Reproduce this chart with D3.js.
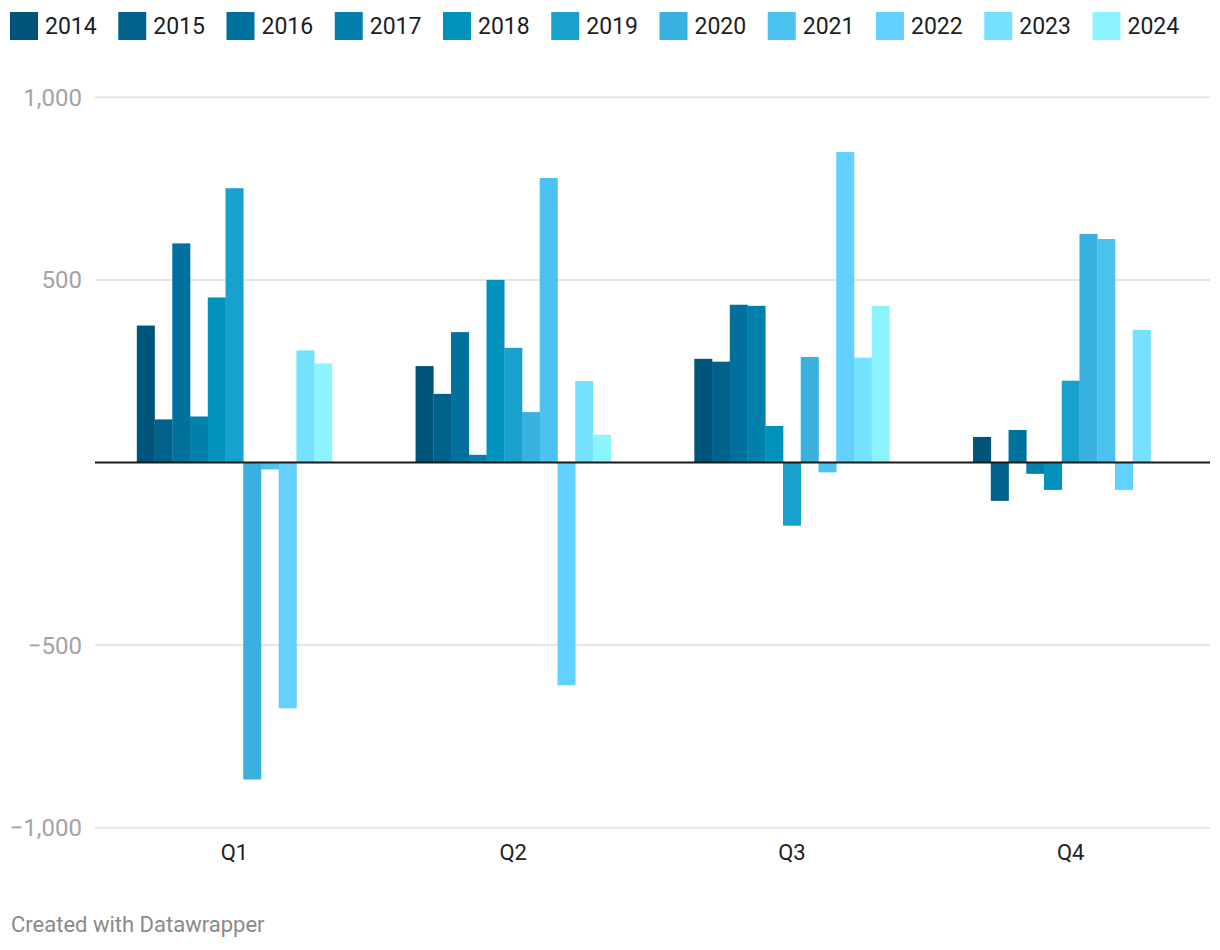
<!DOCTYPE html>
<html>
<head>
<meta charset="utf-8">
<script src="https://cdn.jsdelivr.net/npm/d3@7"></script>
<style>
  html, body { margin: 0; padding: 0; background: #fff; }
  svg { display: block; font-family: Roboto, "Noto Sans", sans-serif; }
</style>
</head>
<body>
<svg id="chart" width="1220" height="950"></svg>
<script>
const quarters = ["Q1", "Q2", "Q3", "Q4"];
const years = ["2014","2015","2016","2017","2018","2019","2020","2021","2022","2023","2024"];
const v2014 = [375, 264, 284, 70];
const v2015 = [118, 188, 276, -105];
const v2016 = [600, 357, 432, 89];
const v2017 = [126, 21, 429, -31];
const v2018 = [452, 500, 100, -75];
const v2019 = [751, 314, -173, 224];
const v2020 = [-868, 138, 289, 626];
const v2021 = [-19, 779, -27, 612];
const v2022 = [-673, -610, 850, -75];
const v2023 = [307, 223, 287, 363];
const v2024 = [271, 76, 429, null];
const seriesValues = [v2014, v2015, v2016, v2017, v2018, v2019, v2020, v2021, v2022, v2023, v2024];
const colors = ["#00547a","#00628b","#00709c","#0080ab","#0092bd","#19a1ce","#38b1de","#4cc2ef","#62d1ff","#74e1ff","#8bf4ff"];
const yTicks = [-1000, -500, 0, 500, 1000];

const svg = d3.select("#chart");
const mLeft = 95, mRight = 1210, mTop = 97.3, mBottom = 827.7;

const x0 = d3.scaleBand().domain(quarters).range([mLeft, mRight]).paddingInner(0.3).paddingOuter(0.15);
const x1 = d3.scaleBand().domain(years).range([0, x0.bandwidth()]).padding(0);
const y = d3.scaleLinear().domain([-1000, 1000]).range([mBottom, mTop]);
const color = d3.scaleOrdinal().domain(years).range(colors);

const fmt = v => v < 0 ? "\u2212" + d3.format(",")(-v) : d3.format(",")(v);

// gridlines
svg.append("g").selectAll("line").data(yTicks.filter(d => d !== 0)).join("line")
  .attr("x1", mLeft).attr("x2", mRight)
  .attr("y1", d => y(d)).attr("y2", d => y(d))
  .attr("stroke", "#e5e5e5").attr("stroke-width", 2);

// y labels
svg.append("g").selectAll("text").data(yTicks.filter(d => d !== 0)).join("text")
  .attr("x", 82).attr("y", d => y(d)).attr("dy", "0.35em")
  .attr("text-anchor", "end").attr("font-size", 24).attr("fill", "#a3a3a3")
  .text(fmt);

// bars
const flat = [];
years.forEach((yr, i) => quarters.forEach((q, j) => {
  const v = seriesValues[i][j];
  if (v !== null && v !== undefined) flat.push({year: yr, quarter: q, value: v});
}));
svg.append("g").selectAll("rect").data(flat).join("rect")
  .attr("x", d => x0(d.quarter) + x1(d.year))
  .attr("width", x1.bandwidth() + 0.3)
  .attr("y", d => y(Math.max(0, d.value)))
  .attr("height", d => Math.abs(y(d.value) - y(0)))
  .attr("fill", d => color(d.year));

// zero line
svg.append("line").attr("x1", mLeft).attr("x2", mRight)
  .attr("y1", y(0)).attr("y2", y(0))
  .attr("stroke", "#1a1a1a").attr("stroke-width", 2);

// x labels
svg.append("g").selectAll("text").data(quarters).join("text")
  .attr("x", d => x0(d) + x0.bandwidth() / 2).attr("y", 852).attr("dy", "0.35em")
  .attr("text-anchor", "middle").attr("font-size", 22).attr("fill", "#222")
  .text(d => d);

// legend
const itemStep = 108.25;
const li = svg.append("g").selectAll("g").data(years).join("g")
  .attr("transform", (d, i) => `translate(${10 + i * itemStep},12)`);
li.append("rect").attr("width", 28).attr("height", 28).attr("fill", d => color(d));
li.append("text").attr("x", 35).attr("y", 14).attr("dy", "0.35em")
  .attr("font-size", 23).attr("fill", "#1d1d1d").text(d => d);

// footer
svg.append("text").attr("x", 11).attr("y", 932)
  .attr("font-size", 22).attr("fill", "#8a8a8a").text("Created with Datawrapper");
</script>
</body>
</html>
